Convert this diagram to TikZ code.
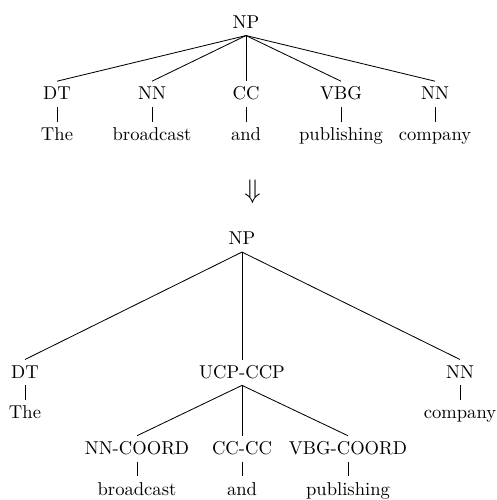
\documentclass[tikz,border=0pt]{standalone}
\begin{document}
\begin{tikzpicture}[x=0.5376pt,y=-0.5376pt,
  lab/.style={inner sep=3pt,text height=6.9pt,text depth=0.6pt,anchor=base},
  edge/.style={draw,line width=0.45pt}]
\useasboundingbox (0,0) rectangle (496,500);
% top tree
\node[lab] (np1) at (246,28.5) {NP};
\node[lab] (dt1) at (57,100) {DT};
\node[lab] (nn1) at (152,100) {NN};
\node[lab] (cc1) at (246,100) {CC};
\node[lab] (vbg1) at (341,100) {VBG};
\node[lab] (nn2) at (435,100) {NN};
\node[lab] (w1) at (57,140.7) {The};
\node[lab] (w2) at (152,140.7) {broadcast};
\node[lab] (w3) at (246,140.7) {and};
\node[lab] (w4) at (341,140.7) {publishing};
\node[lab] (w5) at (435,140.7) {company};
\foreach \c in {dt1,nn1,cc1,vbg1,nn2} \draw[edge] (np1.south) -- (\c.north);
\draw[edge] (dt1.south) -- (w1.north);
\draw[edge] (nn1.south) -- (w2.north);
\draw[edge] (cc1.south) -- (w3.north);
\draw[edge] (vbg1.south) -- (w4.north);
\draw[edge] (nn2.south) -- (w5.north);
% arrow
\node[anchor=base,inner sep=0pt] (arr) at (252.5,199) {\Large$\Downarrow$};
% bottom tree
\node[lab] (np2) at (242,245) {NP};
\node[lab] (dt2) at (25,378.3) {DT};
\node[lab] (ucp) at (242,378.3) {UCP-CCP};
\node[lab] (nn3) at (460,378.3) {NN};
\node[lab] (v1) at (25,418.7) {The};
\node[lab] (v5) at (460,418.7) {company};
\node[lab] (nnc) at (137,454.5) {NN-COORD};
\node[lab] (ccc) at (242,454.5) {CC-CC};
\node[lab] (vbgc) at (348,454.5) {VBG-COORD};
\node[lab] (v2) at (137,495) {broadcast};
\node[lab] (v3) at (242,495) {and};
\node[lab] (v4) at (348,495) {publishing};
\foreach \c in {dt2,ucp,nn3} \draw[edge] (np2.south) -- (\c.north);
\foreach \c in {nnc,ccc,vbgc} \draw[edge] (ucp.south) -- (\c.north);
\draw[edge] (dt2.south) -- (v1.north);
\draw[edge] (nn3.south) -- (v5.north);
\draw[edge] (nnc.south) -- (v2.north);
\draw[edge] (ccc.south) -- (v3.north);
\draw[edge] (vbgc.south) -- (v4.north);
\end{tikzpicture}
\end{document}
